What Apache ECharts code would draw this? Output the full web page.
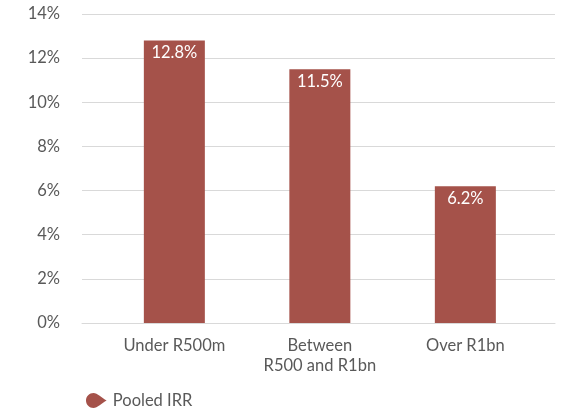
<!DOCTYPE html>
<html><head><meta charset="utf-8">
<script src="https://cdn.jsdelivr.net/npm/echarts@6/dist/echarts.min.js"></script>
<style>html,body{margin:0;padding:0;background:#fff}#c{width:564px;height:409px}</style>
</head><body><div id="c"></div>
<script>
const categories = ['Under R500m', 'Between\nR500 and R1bn', 'Over R1bn'];
const pooledIRR = [12.8, 11.5, 6.2];
const seriesName = 'Pooled IRR';
const yTicks = { min: 0, max: 14, interval: 2 };

const font = 'Lato, "Noto Sans", sans-serif';
const gray = '#595959';
const chart = echarts.init(document.getElementById('c'), null, { renderer: 'canvas' });
chart.setOption({
  animation: false,
  textStyle: { fontFamily: font },
  grid: [
    { left: 82, right: 9, top: 14, bottom: 86 },
    { left: 101.6, right: 25.9, top: 14, bottom: 86 }
  ],
  legend: {
    data: [{ name: seriesName, icon: 'path://M8,0C3.6,0,0,3.6,0,8C0,12.4,3.6,16,8,16C12,16,17,10.5,22,8C17,5.5,12,0,8,0Z' }],
    left: 81, top: 387, itemWidth: 23, itemHeight: 15, itemGap: 10,
    textStyle: { color: gray, fontSize: 16.5, fontFamily: font }
  },
  xAxis: [
    { gridIndex: 0, type: 'category', data: categories.map(() => ''),
      axisLine: { show: true, lineStyle: { color: '#D9D9D9', width: 1 } },
      axisTick: { show: false }, axisLabel: { show: false } },
    { gridIndex: 1, type: 'category', data: categories,
      axisLine: { show: false }, axisTick: { show: false },
      axisLabel: { color: gray, fontSize: 16.5, fontFamily: font, margin: 13, lineHeight: 20, interval: 0 } }
  ],
  yAxis: [
    { gridIndex: 0, type: 'value', min: yTicks.min, max: yTicks.max, interval: yTicks.interval,
      axisLine: { show: false }, axisTick: { show: false },
      splitLine: { lineStyle: { color: '#D9D9D9', width: 1 } },
      axisLabel: { color: gray, fontSize: 16.5, fontFamily: font, margin: 22, formatter: '{value}%' } },
    { gridIndex: 1, type: 'value', min: yTicks.min, max: yTicks.max, interval: yTicks.interval, show: false }
  ],
  series: [{
    name: seriesName, type: 'bar', xAxisIndex: 1, yAxisIndex: 1,
    data: pooledIRR, barWidth: 61,
    itemStyle: { color: '#A5524A' },
    label: { show: true, position: 'insideTop', distance: 4, color: '#fff', fontSize: 16.5, fontFamily: font,
      formatter: p => p.value.toFixed(1) + '%' }
  }]
});
</script></body></html>
